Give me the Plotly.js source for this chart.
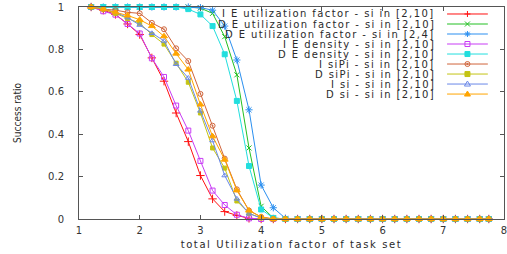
<!DOCTYPE html>
<html><head><meta charset="utf-8">
<script src="https://cdn.plot.ly/plotly-3.0.1.min.js"></script>
<style>html,body{margin:0;padding:0;background:#fff;}#chart{width:507px;height:254px;}</style>
</head><body><div id="chart"></div>
<script>
// ---- data ----
const utilizationFactor = [1.2,1.4,1.6,1.8,2.0,2.2,2.4,2.6,2.8,3.0,3.2,3.4,3.6,3.8,4.0,4.2,4.4,4.6,4.8,5.0,5.2,5.4,5.6,5.8,6.0,6.2,6.4,6.6,6.8,7.0,7.2,7.4,7.6,7.75];

const seriesNames = [
  "I E utilization factor - si in [2,10]",
  "D E utilization factor - si in [2,10]",
  "D E utilization factor - si in [2,4]",
  "I E density - si in [2,10]",
  "D E density - si in [2,10]",
  "I siPi - si in [2,10]",
  "D siPi - si in [2,10]",
  "I si - si in [2,10]",
  "D si - si in [2,10]"
];

const ieUtilization210 = [1,0.985,0.965,0.92,0.87,0.76,0.65,0.50,0.365,0.205,0.095,0.035,0.017,0.003,0,0,0, 0,0,0,0,0,0,0,0,0,0,0,0,0,0,0,0,0];
const deUtilization210 = [1,1,1,1,1,1,1,1,1,0.995,0.97,0.86,0.68,0.335,0.06,0.005,0, 0,0,0,0,0,0,0,0,0,0,0,0,0,0,0,0,0];
const deUtilization24  = [1,1,1,1,1,1,1,1,1,0.997,0.985,0.91,0.75,0.515,0.16,0.053,0.003, 0,0,0,0,0,0,0,0,0,0,0,0,0,0,0,0,0];
const ieDensity210     = [1,0.98,0.964,0.92,0.875,0.758,0.67,0.535,0.417,0.274,0.134,0.066,0.02,0.003,0,0,0, 0,0,0,0,0,0,0,0,0,0,0,0,0,0,0,0,0];
const deDensity210     = [1,1,1,1,1,1,1,1,0.99,0.965,0.91,0.777,0.557,0.25,0.045,0.005,0, 0,0,0,0,0,0,0,0,0,0,0,0,0,0,0,0,0];
const iSiPi210         = [1,0.99,0.985,0.975,0.97,0.925,0.895,0.805,0.745,0.59,0.44,0.285,0.14,0.04,0.01,0,0, 0,0,0,0,0,0,0,0,0,0,0,0,0,0,0,0,0];
const dSiPi210         = [1,0.99,0.97,0.945,0.923,0.87,0.825,0.735,0.645,0.50,0.335,0.24,0.085,0.027,0.005,0,0, 0,0,0,0,0,0,0,0,0,0,0,0,0,0,0,0,0];
const iSi210           = [1,0.99,0.975,0.95,0.915,0.876,0.84,0.73,0.665,0.51,0.37,0.205,0.095,0.025,0.005,0,0, 0,0,0,0,0,0,0,0,0,0,0,0,0,0,0,0,0];
const dSi210           = [1,0.99,0.975,0.96,0.94,0.91,0.862,0.78,0.705,0.54,0.39,0.28,0.135,0.04,0.01,0,0, 0,0,0,0,0,0,0,0,0,0,0,0,0,0,0,0,0];

const xTickLabels = ["1","2","3","4","5","6","7","8"];
const xTickValues = [1,2,3,4,5,6,7,8];

// ---- styles ----
const seriesValues = [ieUtilization210, deUtilization210, deUtilization24, ieDensity210, deDensity210, iSiPi210, dSiPi210, iSi210, dSi210];
const colors  = ['#ff1010','#22c022','#2a8ff0','#c83cf5','#22dede','#d0643a','#c4c414','#6a88e8','#ffa500'];
const symbols = ['cross-thin-open','x-thin-open','asterisk-open','square-open','square','circle-open-dot','square','triangle-up-open','triangle-up'];
const sizes   = [6,5,6,5,5,5,4,5,6];
const FONT = 'DejaVu Sans';

const traces = seriesValues.map((vals, i) => ({
  type: 'scatter', mode: 'lines+markers', name: seriesNames[i],
  x: utilizationFactor, y: vals, cliponaxis: false,
  line: {color: colors[i], width: 1},
  marker: {symbol: symbols[i], size: sizes[i], color: colors[i], line: {color: colors[i], width: 1}}
}));

// ---- gnuplot-style legend (text right-aligned, key sample on the right) ----
const annotations = [];
const shapes = [];
function keyMarker(sym, color, xa, ya) {
  const base = {type: 'path', xref: 'paper', yref: 'paper', xsizemode: 'pixel', ysizemode: 'pixel',
    xanchor: xa, yanchor: ya, line: {color: color, width: 1}, layer: 'above'};
  const list = [];
  if (sym === 'cross-thin-open') list.push({...base, path: 'M-3,0 H3 M0,-3 V3'});
  else if (sym === 'x-thin-open') list.push({...base, path: 'M-2.5,-2.5 L2.5,2.5 M-2.5,2.5 L2.5,-2.5'});
  else if (sym === 'asterisk-open') list.push({...base, path: 'M-3,0 H3 M0,-3 V3 M-2.2,-2.2 L2.2,2.2 M-2.2,2.2 L2.2,-2.2'});
  else if (sym === 'square-open') list.push({...base, path: 'M-2.5,-2.5 H2.5 V2.5 H-2.5 Z'});
  else if (sym === 'square') list.push({...base, path: 'M-2.5,-2.5 H2.5 V2.5 H-2.5 Z', fillcolor: color});
  else if (sym === 'circle-open-dot') {
    list.push({...base, type: 'circle', x0: -2.5, x1: 2.5, y0: -2.5, y1: 2.5});
    list.push({...base, type: 'circle', x0: -0.7, x1: 0.7, y0: -0.7, y1: 0.7, fillcolor: color});
  }
  else if (sym === 'triangle-up-open') list.push({...base, path: 'M-3,-2 L3,-2 L0,3 Z'});
  else if (sym === 'triangle-up') list.push({...base, path: 'M-3,-2 L3,-2 L0,3 Z', fillcolor: color});
  return list;
}
seriesNames.forEach((name, i) => {
  const ry = 0.967 - i * 0.0472;
  annotations.push({xref: 'paper', yref: 'paper', x: 0.842, y: ry, xanchor: 'right', yanchor: 'middle',
    showarrow: false, text: '<span style="letter-spacing:1.4px">' + name + '</span>',
    font: {family: FONT, size: 10, color: '#2a2a2a'}});
  shapes.push({type: 'line', xref: 'paper', yref: 'paper', x0: 0.866, x1: 0.962, y0: ry, y1: ry,
    line: {color: colors[i], width: 1}, layer: 'above'});
  keyMarker(symbols[i], colors[i], 0.914, ry).forEach(s => shapes.push(s));
});

const axisCommon = {
  ticks: 'inside', ticklen: 4, tickcolor: '#555', showline: true, linecolor: '#555', linewidth: 1,
  mirror: 'ticks', showgrid: false, zeroline: false, ticklabeloverflow: 'allow',
  tickfont: {family: FONT, size: 10, color: '#333'}
};

const layout = {
  width: 507, height: 254,
  margin: {l: 79, r: 3, t: 7, b: 35},
  paper_bgcolor: '#fff', plot_bgcolor: '#fff',
  showlegend: false,
  xaxis: {...axisCommon, range: [1, 8], tickvals: xTickValues, ticktext: xTickLabels, ticklabelstandoff: 2,
    title: {text: '<span style="letter-spacing:1.6px">total Utilization factor of task set</span>',
      font: {family: FONT, size: 10, color: '#2a2a2a'}, standoff: 5}},
  yaxis: {...axisCommon, range: [0, 1], dtick: 0.2, tick0: 0, ticklabelstandoff: 12,
    title: {text: 'Success ratio', font: {family: 'DejaVu Sans Condensed, Roboto, sans-serif', size: 10, color: '#2a2a2a'}, standoff: 24}},
  annotations: annotations,
  shapes: shapes
};

Plotly.newPlot('chart', traces, layout, {staticPlot: true, displayModeBar: false});
</script>
</body></html>
